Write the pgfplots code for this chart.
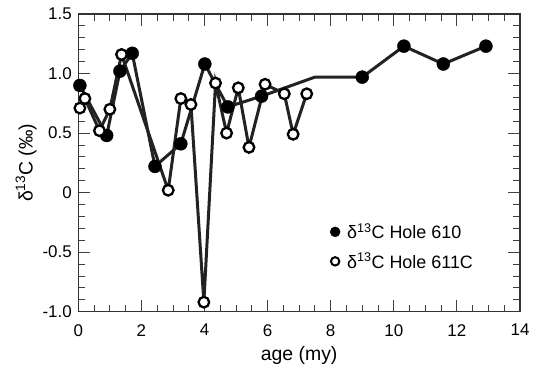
\documentclass[border=0pt]{standalone}
\usepackage{pgfplots}
\pgfplotsset{compat=1.18}
\usepackage{fontspec}
\setmainfont{Liberation Sans}
\definecolor{ln}{HTML}{222222}
\begin{document}
\begin{tikzpicture}
\begin{axis}[
  width=441.7bp, height=297.7bp, scale only axis,
  xmin=0, xmax=14, ymin=-1, ymax=1.5,
  xtick={0,2,...,14}, minor x tick num=3,
  ytick={-1,-0.5,0,0.5,1,1.5}, yticklabels={-1.0,-0.5,0,0.5,1.0,1.5},
  minor y tick num=4,
  tick align=inside,
  major tick length=12bp, minor tick length=7bp,
  tick style={line width=0.9bp, color=black!75},
  axis line style={line width=1.1bp, color=black!80},
  /pgf/number format/assume math mode=true,
  tick label style={font=\fontsize{17}{20}\selectfont},
  label style={font=\fontsize{19.5}{23}\selectfont},
  xticklabel style={yshift=-9bp},
  yticklabel style={xshift=-3bp},
  xlabel={age (my)},
  ylabel={δ\textsuperscript{13}C (‰)},
  xlabel style={yshift=-3bp},
  ylabel style={yshift=-1bp},
  legend style={draw=none, fill=none, at={(0.563,0.31)}, anchor=north west,
    font=\fontsize{18}{21}\selectfont, row sep=9bp},
  legend cell align=left,
]
\coordinate (bl) at (rel axis cs:0,0);
\coordinate (tr) at (rel axis cs:1,1);
% Hole 610 line (includes unmarked bend point)
\addplot[ln, line width=3bp, forget plot] coordinates {
 (0.05,0.90) (0.90,0.48) (1.32,1.02) (1.71,1.17) (2.43,0.22) (3.25,0.41)
 (4.01,1.08) (4.74,0.72) (5.81,0.81) (7.50,0.97) (9.00,0.97) (10.32,1.23)
 (11.57,1.08) (12.92,1.23)};
\addplot[only marks, mark=*, mark size=6.5bp, mark options={fill=black, draw=black}, forget plot] coordinates {
 (0.05,0.90) (0.90,0.48) (1.32,1.02) (1.71,1.17) (2.43,0.22) (3.25,0.41)
 (4.01,1.08) (4.74,0.72) (5.81,0.81) (9.00,0.97) (10.32,1.23)
 (11.57,1.08) (12.92,1.23)};
% Hole 611C
\addplot[ln, line width=3bp, forget plot] coordinates {
 (0.05,0.71) (0.21,0.79) (0.67,0.52) (1.00,0.70) (1.37,1.16) (2.85,0.02)
 (3.25,0.79) (3.57,0.74) (3.98,-0.92) (4.35,0.92) (4.70,0.50) (5.07,0.88)
 (5.41,0.38) (5.92,0.91) (6.53,0.83) (6.81,0.49) (7.24,0.83)};
\addplot[only marks, mark=*, mark size=5.3bp, mark options={fill=white, draw=black, line width=2.3bp}, forget plot] coordinates {
 (0.05,0.71) (0.21,0.79) (0.67,0.52) (1.00,0.70) (1.37,1.16) (2.85,0.02)
 (3.25,0.79) (3.57,0.74) (3.98,-0.92) (4.35,0.92) (4.70,0.50) (5.07,0.88)
 (5.41,0.38) (5.92,0.91) (6.53,0.83) (6.81,0.49) (7.24,0.83)};
\addlegendimage{only marks, mark=*, mark size=5bp, mark options={fill=black, draw=black}}
\addlegendentry{\hspace{5bp}δ\textsuperscript{13}C Hole 610}
\addlegendimage{only marks, mark=*, mark size=4.2bp, mark options={fill=white, draw=black, line width=2bp}}
\addlegendentry{\hspace{5bp}δ\textsuperscript{13}C Hole 611C}
\end{axis}
\pgfresetboundingbox
\path ([shift={(-78.3bp,-56.3bp)}]bl) rectangle ([shift={(17bp,14bp)}]tr);
\end{tikzpicture}
\end{document}
